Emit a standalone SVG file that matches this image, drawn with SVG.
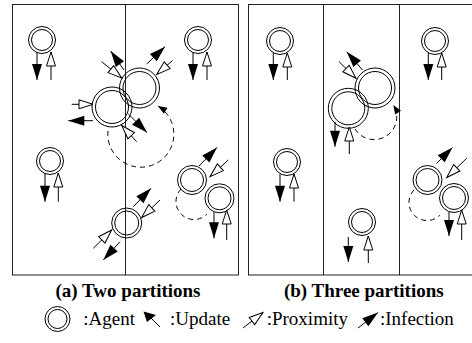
<svg xmlns="http://www.w3.org/2000/svg" width="472" height="343" viewBox="0 0 472 343">
<defs>
<marker id="mb" markerUnits="userSpaceOnUse" viewBox="0 0 16 10" markerWidth="16" markerHeight="10" refX="16" refY="5" orient="auto" overflow="visible"><path d="M0,0 L16,5 L0,10 z" fill="#000"/></marker>
<marker id="mw" markerUnits="userSpaceOnUse" viewBox="0 0 14 9" markerWidth="14" markerHeight="9" refX="14" refY="4.5" orient="auto" overflow="visible"><path d="M0,0 L14,4.5 L0,9 z" fill="#fff" stroke="#000" stroke-width="1"/></marker>
<marker id="md" markerUnits="userSpaceOnUse" viewBox="0 0 9 7" markerWidth="9" markerHeight="7" refX="9" refY="3.5" orient="auto" overflow="visible"><path d="M0,0 L9,3.5 L0,7 z" fill="#000"/></marker>
</defs>
<style>
.frame{fill:none;stroke:#222;stroke-width:1}
.ag circle{fill:none;stroke:#000;stroke-width:1}
.a{fill:none;stroke:#000;stroke-width:1}
.ab{marker-end:url(#mb)}
.aw{marker-end:url(#mw)}
.d{fill:none;stroke:#000;stroke-width:1;stroke-dasharray:5 4}
.dm{marker-end:url(#md)}
.cap{font-family:"Liberation Serif","Times New Roman",serif;font-size:19px;font-weight:bold;fill:#000;text-anchor:middle}
.leg{font-family:"Liberation Serif","Times New Roman",serif;font-size:19px;fill:#000}
</style>
<rect width="472" height="343" fill="#fff"/>
<g id="frames">
<rect class="frame" x="12.5" y="4.5" width="226" height="270.5"/>
<line class="frame" x1="125.5" y1="4.5" x2="125.5" y2="275"/>
<rect class="frame" x="248.5" y="4.5" width="224" height="270.5"/>
<line class="frame" x1="323.5" y1="4.5" x2="323.5" y2="275"/>
<line class="frame" x1="399.5" y1="4.5" x2="399.5" y2="275"/>
</g>
<g id="agent-a1" class="ag"><circle cx="42" cy="40" r="13.5"/><circle cx="42" cy="40" r="10.5"/></g>
<g id="agent-a2" class="ag"><circle cx="198" cy="40" r="13.5"/><circle cx="198" cy="40" r="10.5"/></g>
<g id="agent-a3" class="ag"><circle cx="50" cy="161" r="13.5"/><circle cx="50" cy="161" r="10.5"/></g>
<g id="agent-aA" class="ag"><circle cx="139.5" cy="88" r="20"/><circle cx="139.5" cy="88" r="16.5"/></g>
<g id="agent-aB" class="ag"><circle cx="112" cy="107" r="20"/><circle cx="112" cy="107" r="16.5"/></g>
<g id="agent-aC" class="ag"><circle cx="126.7" cy="223" r="15"/><circle cx="126.7" cy="223" r="12"/></g>
<g id="agent-aD" class="ag"><circle cx="192" cy="180" r="14.5"/><circle cx="192" cy="180" r="11.5"/></g>
<g id="agent-aE" class="ag"><circle cx="219.5" cy="198.3" r="14.5"/><circle cx="219.5" cy="198.3" r="11.5"/></g>
<g id="agent-b1" class="ag"><circle cx="280" cy="41" r="13.5"/><circle cx="280" cy="41" r="10.5"/></g>
<g id="agent-b2" class="ag"><circle cx="435" cy="41" r="13.5"/><circle cx="435" cy="41" r="10.5"/></g>
<g id="agent-b3" class="ag"><circle cx="287" cy="162" r="13.5"/><circle cx="287" cy="162" r="10.5"/></g>
<g id="agent-b4" class="ag"><circle cx="362" cy="222" r="13.5"/><circle cx="362" cy="222" r="10.5"/></g>
<g id="agent-bH" class="ag"><circle cx="375" cy="88" r="20"/><circle cx="375" cy="88" r="16.5"/></g>
<g id="agent-bI" class="ag"><circle cx="348.3" cy="108.3" r="20"/><circle cx="348.3" cy="108.3" r="16.5"/></g>
<g id="agent-bL" class="ag"><circle cx="427.5" cy="180" r="14.5"/><circle cx="427.5" cy="180" r="11.5"/></g>
<g id="agent-bM" class="ag"><circle cx="454" cy="198" r="14.5"/><circle cx="454" cy="198" r="11.5"/></g>
<g id="connectors">
<path class="a ab" d="M37,52 L37,80"/><path class="a aw" d="M51,80 L51,52"/>
<path class="a ab" d="M193,52 L193,80"/><path class="a aw" d="M207,80 L207,52"/>
<path class="a ab" d="M45,173 L45,201.7"/><path class="a aw" d="M58.3,201.7 L58.3,173"/>
<path class="a ab" d="M124,70 L110.7,51"/>
<path class="a aw" d="M101.7,61.7 L121.7,78"/>
<path class="a ab" d="M146.7,64 L165,46.7"/>
<path class="a aw" d="M172.5,60.5 L156.7,74.5"/>
<path class="d dm" d="M108,131 A33,33 0 1 0 158,106"/>
<path class="a aw" d="M71.7,104.3 L93,104.3"/>
<path class="a ab" d="M93,120.7 L68.3,120.7"/>
<path class="a ab" d="M128.3,114 L147,132.5"/>
<path class="a aw" d="M136.7,141.7 L121.7,125.5"/>
<path class="a ab" d="M133.3,206.7 L151,188.3"/>
<path class="a aw" d="M160,200 L141.7,217.5"/>
<path class="a aw" d="M93.3,248.3 L111.7,230"/>
<path class="a ab" d="M120,241.7 L103.3,260"/>
<path class="a ab" d="M199,166 L217,147.5"/>
<path class="a aw" d="M228.3,160 L210,176.7"/>
<path class="d" d="M181,189 A17,17 0 0 0 207,214"/>
<path class="a ab" d="M214,212 L214,238.3"/><path class="a aw" d="M226.7,240 L226.7,210"/>
<path class="a ab" d="M273.3,53 L273.3,80"/><path class="a aw" d="M287.3,80 L287.3,53"/>
<path class="a ab" d="M428.3,53 L428.3,80"/><path class="a aw" d="M441.7,80 L441.7,53"/>
<path class="a ab" d="M280,174 L280,201.7"/><path class="a aw" d="M294,201.7 L294,174"/>
<path class="a ab" d="M348.3,237 L348.3,262"/><path class="a aw" d="M368.3,263 L368.3,236"/>
<path class="a ab" d="M362.5,70 L346.7,51.7"/>
<path class="a aw" d="M339,61.7 L356,78.3"/>
<path class="d dm" d="M355,129 A22.5,22.5 0 0 0 393.3,105"/>
<path class="a ab" d="M335,121.7 L335,146.7"/><path class="a aw" d="M349.3,154 L349.3,127"/>
<path class="a ab" d="M436.5,163.5 L452.5,147.5"/>
<path class="a aw" d="M466.7,158.3 L446.7,177.5"/>
<path class="d" d="M414,190 A17,17 0 0 0 440,215"/>
<path class="a ab" d="M449,212 L449,236"/><path class="a aw" d="M461.7,240 L461.7,210"/>
</g>
<g id="captions">
<text class="cap" x="128" y="297">(a) Two partitions</text>
<text class="cap" x="363.8" y="297">(b) Three partitions</text>
</g>
<g id="legend">
<g id="legend-agent" class="ag"><circle cx="57.5" cy="319" r="12.5"/><circle cx="57.5" cy="319" r="9.5"/></g>
<text class="leg" x="83.3" y="325">:Agent</text>
<path class="a" d="M160,327 L151,318" stroke-width="1.2"/><path d="M143.5,311.5 L156,315 L147,322 z" fill="#000"/>
<text class="leg" x="170" y="325">:Update</text>
<path class="a aw" d="M243,328 L263,312.5"/>
<text class="leg" x="266.7" y="325">:Proximity</text>
<path class="a ab" d="M358,328 L378,312.5"/>
<text class="leg" x="380" y="325">:Infection</text>
</g>
</svg>
